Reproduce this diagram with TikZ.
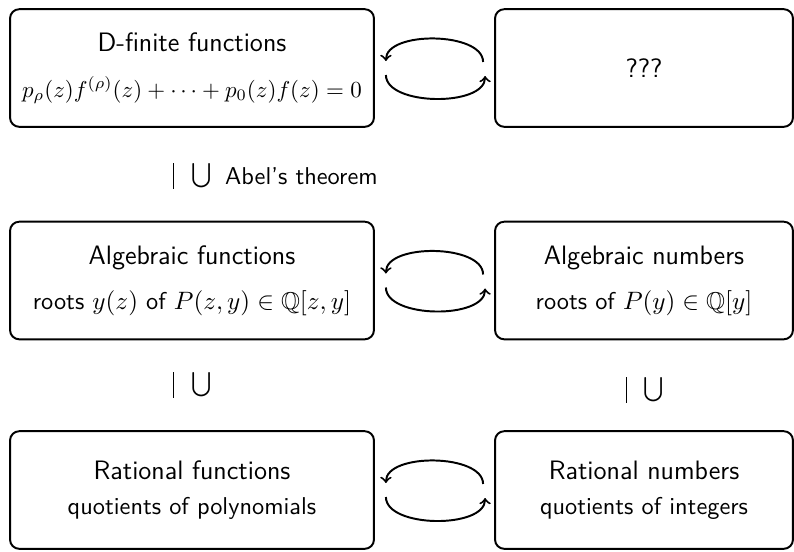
\documentclass[tikz,border=0pt]{standalone}
\usepackage{amssymb}
\renewcommand{\familydefault}{\sfdefault}
\usetikzlibrary{positioning, calc}
\tikzset{
  every picture/.style={line width=0.85pt},
  classbox/.style={draw, rounded corners=4pt, align=center, minimum height=1.8cm, inner sep=2pt,
    font=\fontsize{10.6}{14}\selectfont},
  leftbox/.style={classbox, minimum width=5.569cm},
  rightbox/.style={classbox, minimum width=4.559cm},
  cyclearrow/.style={->, looseness=0.8},
  inclusion/.style={inner sep=0pt, font=\fontsize{10.6}{14}\selectfont},
}
\newcommand{\classname}[1]{{\fontsize{11.6}{14}\selectfont #1}}
\newcommand{\subsetup}{\rule[-3pt]{0.45pt}{11pt}\hspace{7.5pt}$\bigcup$}

\begin{document}
\begin{tikzpicture}[x=0.0153cm, y=-0.0153cm]
  \useasboundingbox (0,0) rectangle (794,551);
  % the six classes
  \node[leftbox] (dfin) at (192,68) {\classname{D-finite functions}\\[6pt]
    {\fontsize{10.2}{14}\selectfont $p_\rho(z)f^{(\rho)}(z)+\cdots+p_0(z)f(z)=0$}};
  \node[rightbox] (unknown) at (644,68) {\classname{???}};
  \node[leftbox] (algf) at (192,280.5) {\classname{Algebraic functions}\\[5.6pt] roots $y(z)$ of $P(z,y)\in\mathbb{Q}[z,y]$};
  \node[rightbox] (algn) at (644,280.5) {\classname{Algebraic numbers}\\[5.6pt] roots of $P(y)\in\mathbb{Q}[y]$};
  \node[leftbox] (ratf) at (192,490) {\classname{Rational functions}\\[1.2pt] quotients of polynomials};
  \node[rightbox] (ratn) at (644,490) {\classname{Rational numbers}\\[1.2pt] quotients of integers};
  % inclusions
  \node[inclusion] (incl1) at (192.5,176) {\subsetup};
  \node[inclusion, right=5pt of incl1] (abel) {Abel's theorem};
  \node[inclusion] (incl2) at (192.5,385) {\subsetup};
  \node[inclusion] (incl3) at (645,390) {\subsetup};
  % correspondences
  \foreach \l/\r in {dfin/unknown, algf/algn, ratf/ratn} {
    \draw[cyclearrow] ([shift={(-11,-6)}]\r.west) to[out=90, in=90] ([shift={(11,-7)}]\l.east);
    \draw[cyclearrow] ([shift={(11,7)}]\l.east) to[out=-90, in=-90] ([shift={(-9,8)}]\r.west);
  }
\end{tikzpicture}
\end{document}
